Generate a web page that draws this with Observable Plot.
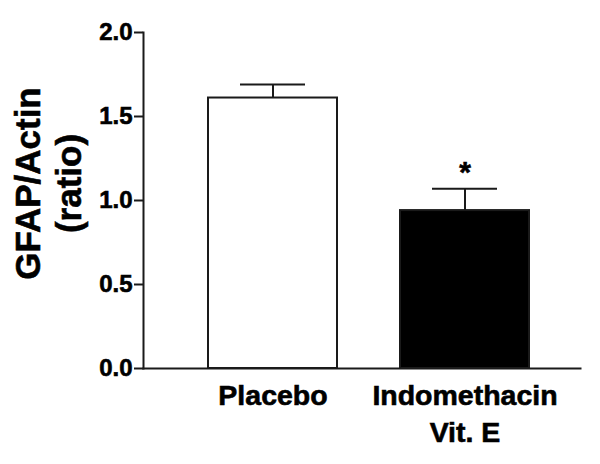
<!DOCTYPE html>
<html><head><meta charset="utf-8">
<script src="https://cdn.jsdelivr.net/npm/d3@7"></script>
<script src="https://cdn.jsdelivr.net/npm/@observablehq/plot@0.6"></script>
<style>body{margin:0;background:#fff} svg text{stroke:#000;stroke-width:0.6px;}</style>
</head><body><div id="chart"></div>
<script>
const categories = ["Placebo", "Indomethacin\nVit. E"];
const means = [1.61, 0.94];
const sems = [0.08, 0.13];
const fills = ["#ffffff", "#000000"];
const sigMarks = ["", "*"];
const yTicks = [0, 0.5, 1.0, 1.5, 2.0];
const yLabel = "GFAP/Actin\n(ratio)";

const data = categories.map((c, i) => ({cat: c, mean: means[i], sem: sems[i], fill: fills[i], sig: sigMarks[i]}));
const ink = "#1a1a1a";

const chart = Plot.plot({
  width: 600, height: 464,
  marginLeft: 143, marginRight: 20, marginTop: 32, marginBottom: 96,
  style: {fontFamily: "'Liberation Sans', Arial, sans-serif", fontWeight: "bold", color: "#000", background: "#fff"},
  x: {domain: categories, paddingInner: 0.33, paddingOuter: 0.303, align: 0.556},
  y: {domain: [0, 2]},
  marks: [
    Plot.ruleX(data, {x: "cat", y1: "mean", y2: d => d.mean + d.sem, stroke: ink, strokeWidth: 2}),
    Plot.tickY(data, {x: "cat", y: d => d.mean + d.sem, stroke: ink, strokeWidth: 2, insetLeft: 32, insetRight: 32}),
    Plot.barY(data, {x: "cat", y: "mean", fill: "fill", stroke: ink, strokeWidth: 2}),
    Plot.text(data, {x: "cat", y: d => d.mean + d.sem, text: "sig", fontSize: 30, lineAnchor: "bottom", dy: -7, fill: "#000"}),
    Plot.frame({anchor: "left", stroke: ink, strokeWidth: 2}),
    Plot.frame({anchor: "bottom", stroke: ink, strokeWidth: 2}),
    Plot.axisY({ticks: yTicks, tickFormat: d3.format(".1f"), tickSize: 9, tickPadding: 2, fontSize: 24, label: null, stroke: ink, strokeWidth: 2}),
    Plot.axisX({tickSize: 0, tickPadding: 10, fontSize: 28.5, lineHeight: 1.3, label: null}),
    Plot.text([yLabel], {frameAnchor: "left", text: d => d, rotate: -90, fontSize: 35, lineHeight: 1.18, dx: -96, dy: -17, lineAnchor: "middle", textAnchor: "middle", fill: "#000"})
  ]
});
document.getElementById("chart").append(chart);
</script>
</body></html>
